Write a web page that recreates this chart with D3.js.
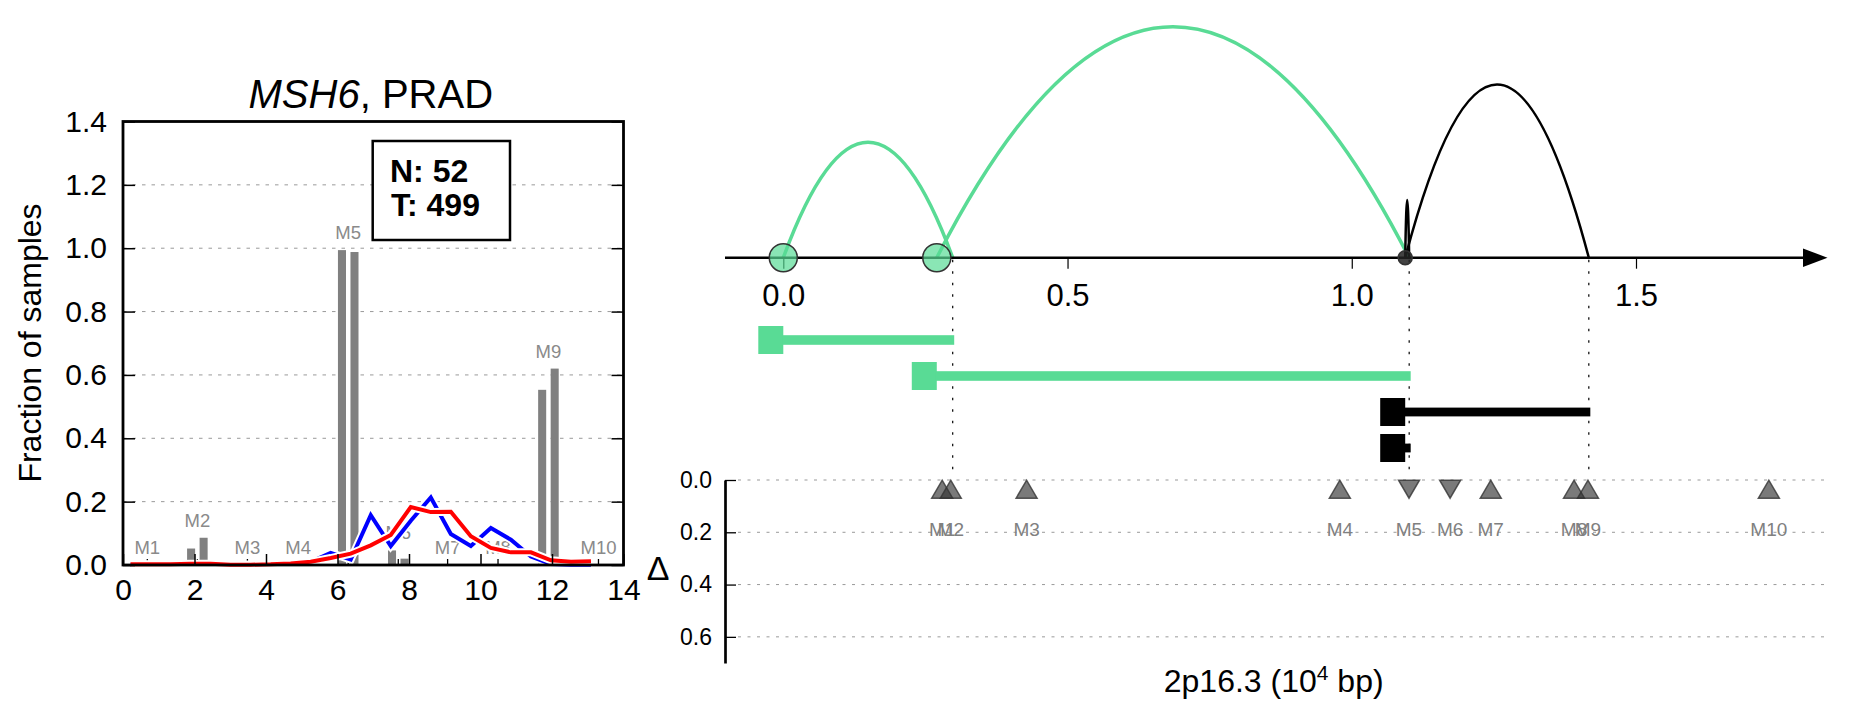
<!DOCTYPE html>
<html><head><meta charset="utf-8">
<script src="https://cdn.jsdelivr.net/npm/d3@7"></script>
<style>
body{margin:0;background:#fff}
text{font-family:"Liberation Sans",Arial,Helvetica,sans-serif}
</style>
</head><body>
<svg id="c" width="1851" height="718"></svg>
<script>
// ---------------- DATA ----------------
// left panel
const mutLabels = ["M1","M2","M3","M4","M5","M6","M7","M8","M9","M10"];
const mutDeltaPos = [0.68, 2.08, 3.48, 4.90, 6.30, 7.70, 9.08, 10.49, 11.90, 13.30];
const fracBarA = [0, 0.052, 0, 0, 0.994, 0.046, 0, 0, 0.553, 0];
const fracBarB = [0, 0.086, 0, 0, 0.988, 0.020, 0, 0, 0.620, 0];
const distX = [0.21, 0.77, 1.33, 1.89, 2.45, 3.01, 3.57, 4.13, 4.69, 5.25, 5.81, 6.37,
               6.93, 7.49, 8.05, 8.61, 9.17, 9.73, 10.29, 10.85, 11.41, 11.97, 12.53, 13.09];
const distBlue = [0.001, 0.001, 0.001, 0.002, 0.002, 0.001, 0.001, 0.001, 0.004, 0.010, 0.038, 0.017,
                  0.157, 0.060, 0.140, 0.213, 0.098, 0.060, 0.117, 0.080, 0.027, 0.003, 0.001, 0.001];
const distRed  = [0.002, 0.002, 0.002, 0.004, 0.004, 0.001, 0.001, 0.002, 0.005, 0.010, 0.022, 0.036,
                  0.062, 0.095, 0.183, 0.167, 0.168, 0.091, 0.054, 0.040, 0.040, 0.015, 0.010, 0.012];
const fracTicks = [0, 0.2, 0.4, 0.6, 0.8, 1.0, 1.2, 1.4];
const deltaTicks = [0, 2, 4, 6, 8, 10, 12, 14];
const nNormal = 52, nTumor = 499;
const leftTitleGene = "MSH6", leftTitleCancer = "PRAD";

// right panel
const bpPos = [0.0, 0.27, 1.094];
const bpWeight = [1, 1, 0.25];
const bpClass = ["g", "g", "k"];
const segStart = [0.0, 0.27, 1.094, 1.094];
const segEnd = [0.298, 1.101, 1.417, 1.101];
const segClass = ["g", "g", "k", "k"];
const segArc = [0.5, 1.0, 0.75, 0.25];
const mutGenomePos = [0.2795, 0.2946, 0.428, 0.979, 1.1007, 1.173, 1.2445, 1.391, 1.4155, 1.7337];
const mutDir = ["up","up","up","up","down","down","up","up","up","up"];
const mutDelta = [0.035, 0.035, 0.035, 0.035, 0.035, 0.035, 0.035, 0.035, 0.035, 0.035];
const posTicks = [0, 0.5, 1.0, 1.5];
const lowTicks = [0, 0.2, 0.4, 0.6];

// ---------------- DRAW ----------------
const svg = d3.select("#c");
svg.append("rect").attr("width",1851).attr("height",718).attr("fill","#fff");
const GREEN = "#59db95";
const colorOf = c => c === "g" ? GREEN : "#000";

// ===== LEFT PANEL =====
const xL = d3.scaleLinear().domain([0,14]).range([123,623.5]);
const yL = d3.scaleLinear().domain([0,1.4]).range([565,121.5]);
const L = svg.append("g");

// gridlines
L.append("g").selectAll("line").data(fracTicks.filter(v=>v>0 && v<1.4)).join("line")
  .attr("x1",xL(0)).attr("x2",xL(14)).attr("y1",d=>yL(d)).attr("y2",d=>yL(d))
  .attr("stroke","#999").attr("stroke-width",1).attr("stroke-dasharray","3.5,6");

// bars
const barOff = 0.175, barW = 0.225;
const bars = L.append("g");
mutDeltaPos.forEach((p,i)=>{
  [[fracBarA[i], -barOff],[fracBarB[i], barOff]].forEach(([v,o])=>{
    if (v <= 0) return;
    bars.append("rect")
      .attr("x", xL(p+o-barW/2)).attr("width", xL(barW)-xL(0))
      .attr("y", yL(v)).attr("height", yL(0)-yL(v))
      .attr("fill","#808080");
  });
});
// M labels
L.append("g").selectAll("text").data(mutLabels).join("text")
  .attr("x",(d,i)=>xL(mutDeltaPos[i])).attr("y",(d,i)=>yL(Math.max(fracBarA[i],fracBarB[i]))-11)
  .attr("text-anchor","middle").attr("font-size",18.5).attr("fill","#8a8a8a").text(d=>d);

// minor ticks at mutation positions
L.append("g").selectAll("line").data(mutDeltaPos).join("line")
  .attr("x1",d=>xL(d)).attr("x2",d=>xL(d)).attr("y1",yL(0)).attr("y2",yL(0)-6)
  .attr("stroke","#000").attr("stroke-width",1.3);

// distribution lines
const lineL = d3.line().x(d=>xL(d[0])).y(d=>yL(d[1]));
[[distBlue,"#0000ff"],[distRed,"#ff0000"]].forEach(([vals,col])=>{
  const pts = distX.map((x,i)=>[x,vals[i]]);
  L.append("path").attr("d",lineL(pts)).attr("fill","none").attr("stroke","#fff")
    .attr("stroke-width",8).attr("stroke-linejoin","miter");
  L.append("path").attr("d",lineL(pts)).attr("fill","none").attr("stroke",col)
    .attr("stroke-width",4).attr("stroke-linejoin","miter");
});

// axes
const axL = L.append("g").attr("transform",`translate(${xL(0)},0)`)
  .call(d3.axisLeft(yL).tickValues(fracTicks).tickFormat(d3.format(".1f")).tickSizeInner(-12).tickSizeOuter(0).tickPadding(16));
const axR = L.append("g").attr("transform",`translate(${xL(14)},0)`)
  .call(d3.axisRight(yL).tickValues(fracTicks).tickFormat("").tickSizeInner(-12).tickSizeOuter(0));
const axB = L.append("g").attr("transform",`translate(0,${yL(0)})`)
  .call(d3.axisBottom(xL).tickValues(deltaTicks).tickFormat(d3.format("d")).tickSizeInner(-11).tickSizeOuter(0).tickPadding(14));
[axL,axR,axB].forEach(a=>{
  a.select(".domain").remove();
  a.selectAll(".tick line").attr("stroke","#000").attr("stroke-width",1.5);
  a.selectAll("text").attr("font-size",30).attr("fill","#000")
    .attr("font-family",'"Liberation Sans",Arial,sans-serif');
});
// frame
L.append("rect").attr("x",xL(0)).attr("y",yL(1.4)).attr("width",xL(14)-xL(0)).attr("height",yL(0)-yL(1.4))
  .attr("fill","none").attr("stroke","#000").attr("stroke-width",2.8);

// title
const tt = L.append("text").attr("x",370.8).attr("y",107.7).attr("text-anchor","middle").attr("font-size",40);
tt.append("tspan").attr("font-style","italic").text(leftTitleGene);
tt.append("tspan").text(", " + leftTitleCancer);

// y label
L.append("text").attr("transform","translate(41,343) rotate(-90)").attr("text-anchor","middle")
  .attr("font-size",32).text("Fraction of samples");

// N/T box
L.append("rect").attr("x",372.7).attr("y",141).attr("width",137.3).attr("height",99)
  .attr("fill","#fff").attr("stroke","#000").attr("stroke-width",2.5);
L.append("text").attr("x",390).attr("y",181.7).attr("font-size",32).attr("font-weight","bold").text("N: " + nNormal);
L.append("text").attr("x",391).attr("y",216).attr("font-size",32).attr("font-weight","bold").text("T: " + nTumor);

// ===== RIGHT PANEL =====
const xR = d3.scaleLinear().domain([0,1.5]).range([783.3,1636]);
const axisY = 257.7;
const yArc = d3.scaleLinear().domain([0,1]).range([axisY, axisY-231]);
const rowY = d3.scaleLinear().domain([0,3]).range([340,448]);
const yLow = d3.scaleLinear().domain([0,0.7]).range([480,663]);
const rSize = d3.scaleSqrt().domain([0,1]).range([0,14]);
const R = svg.append("g");

// lower gridlines
R.append("g").selectAll("line").data(lowTicks).join("line")
  .attr("x1",738).attr("x2",1827).attr("y1",d=>yLow(d)).attr("y2",d=>yLow(d))
  .attr("stroke","#999").attr("stroke-width",1).attr("stroke-dasharray","3,6.5");

// dotted verticals at segment ends
const ends = Array.from(new Set(segEnd));
R.append("g").selectAll("line").data(ends).join("line")
  .attr("x1",d=>xR(d)).attr("x2",d=>xR(d)).attr("y1",axisY+2).attr("y2",472)
  .attr("stroke","#000").attr("stroke-width",1.2).attr("stroke-dasharray","2.5,9");

// arcs
segStart.forEach((s,i)=>{
  const x0 = xR(s), x1 = xR(segEnd[i]);
  const h = axisY - yArc(segArc[i]);
  R.append("path").attr("d",`M${x0},${axisY} Q${(x0+x1)/2},${axisY-2*h} ${x1},${axisY}`)
    .attr("fill","none").attr("stroke",colorOf(segClass[i]))
    .attr("stroke-width",segClass[i]==="g"?3.5:2.5);
});

// position axis
R.append("line").attr("x1",725).attr("x2",1806).attr("y1",axisY).attr("y2",axisY)
  .attr("stroke","#000").attr("stroke-width",2.5);
R.append("path").attr("d",`M1803,${axisY-9.2} L1827.5,${axisY} L1803,${axisY+9.2} Z`).attr("fill","#000");
const axT = R.append("g").attr("transform",`translate(0,${axisY})`)
  .call(d3.axisBottom(xR).tickValues(posTicks).tickFormat(d3.format(".1f")).tickSizeInner(11).tickSizeOuter(0).tickPadding(15));
axT.select(".domain").remove();
axT.selectAll(".tick line").attr("stroke","#000").attr("stroke-width",1.2);
axT.selectAll("text").attr("font-size",31).attr("fill","#000").attr("font-family",'"Liberation Sans",Arial,sans-serif');

// breakpoint circles
R.append("g").selectAll("circle").data(bpPos).join("circle")
  .attr("cx",d=>xR(d)).attr("cy",axisY).attr("r",(d,i)=>rSize(bpWeight[i]))
  .attr("fill",(d,i)=>bpClass[i]==="g"?GREEN:"#222").attr("fill-opacity",(d,i)=>bpClass[i]==="g"?0.7:0.85)
  .attr("stroke","#333").attr("stroke-width",1.5);

// segment bars
segStart.forEach((s,i)=>{
  const y = rowY(i), c = colorOf(segClass[i]);
  R.append("rect").attr("x",xR(s)-25).attr("y",y-14).attr("width",25).attr("height",28).attr("fill",c);
  R.append("rect").attr("x",xR(s)-1).attr("y",y-(segClass[i]==="g"?4.8:4.4))
    .attr("width",xR(segEnd[i])-xR(s)+2.5).attr("height",segClass[i]==="g"?9.6:8.8).attr("fill",c);
});

// lower y axis
const axLow = R.append("g").attr("transform","translate(725,0)")
  .call(d3.axisLeft(yLow).tickValues(lowTicks).tickFormat(d3.format(".1f")).tickSizeInner(-11).tickSizeOuter(0).tickPadding(13));
axLow.select(".domain").attr("stroke","#000").attr("stroke-width",2.7);
axLow.selectAll(".tick line").attr("stroke","#000").attr("stroke-width",1.3);
axLow.selectAll("text").attr("font-size",23).attr("fill","#000").attr("font-family",'"Liberation Sans",Arial,sans-serif');
R.append("text").attr("x",658).attr("y",580).attr("text-anchor","middle").attr("font-size",34).text("Δ");

// mutation markers
const tri = (x,y,dir)=> dir==="up"
  ? `M${x-10.5},${y+9} L${x+10.5},${y+9} L${x},${y-9} Z`
  : `M${x-10.5},${y-9} L${x+10.5},${y-9} L${x},${y+9} Z`;
R.append("g").selectAll("path").data(mutGenomePos).join("path")
  .attr("d",(d,i)=>tri(xR(d), yLow(mutDelta[i]), mutDir[i]))
  .attr("fill","#333").attr("fill-opacity",0.65).attr("stroke","#333").attr("stroke-opacity",0.8).attr("stroke-width",1.5);
R.append("g").selectAll("text").data(mutLabels).join("text")
  .attr("x",(d,i)=>xR(mutGenomePos[i])).attr("y",536).attr("text-anchor","middle")
  .attr("font-size",19).attr("fill","#808080").text(d=>d);

// x label
const xl = R.append("text").attr("x",1273.7).attr("y",692).attr("text-anchor","middle").attr("font-size",32);
xl.append("tspan").text("2p16.3 (10");
xl.append("tspan").attr("font-size",21).attr("dy",-12).text("4");
xl.append("tspan").attr("dy",12).text(" bp)");
</script>
</body></html>
